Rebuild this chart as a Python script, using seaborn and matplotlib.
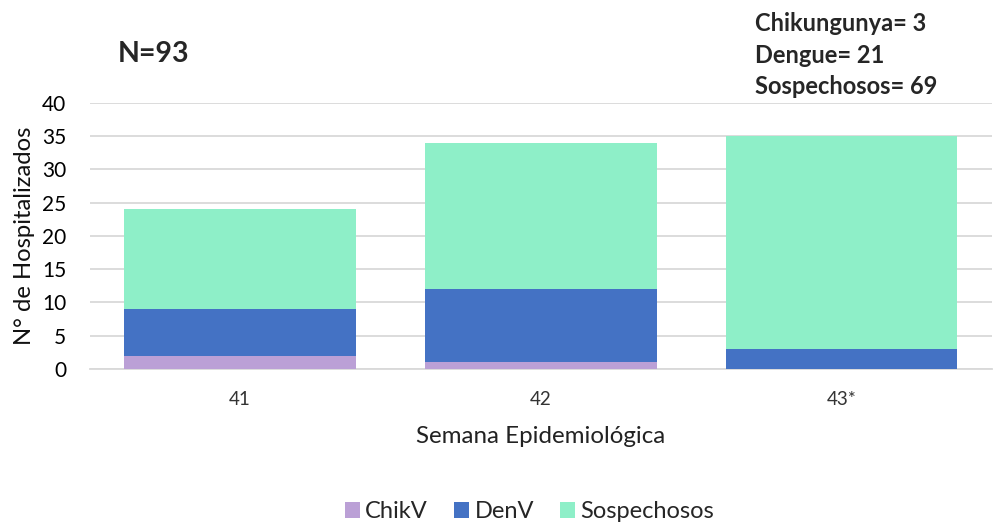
import pandas as pd
import numpy as np
import matplotlib.pyplot as plt
import seaborn as sns
from matplotlib.patches import Patch

# Data
semanas = ["41", "42", "43*"]
chikv = [2, 1, 0]
denv = [7, 11, 3]
sospechosos = [15, 22, 32]

series = ["ChikV", "DenV", "Sospechosos"]
colores = ["#BBA0D6", "#4472C4", "#8EEFC8"]

df = pd.DataFrame({"Semana": semanas, "ChikV": chikv, "DenV": denv,
                   "Sospechosos": sospechosos})

sns.set_theme(style="white")
plt.rcParams['font.family'] = ['Lato', 'DejaVu Sans']

fig = plt.figure(figsize=(9.97, 5.22), dpi=100)
ax = fig.add_axes([0.090, 0.293, 0.905, 0.510])

# Stacked bars
base = np.zeros(len(semanas))
for serie, color in zip(series, colores):
    sns.barplot(data=df, x="Semana", y=serie, color=color, ax=ax,
                width=0.77, bottom=base, saturation=1, linewidth=0, zorder=3)
    base = base + df[serie].values

ax.set_ylim(0, 40)
ax.set_yticks(range(0, 41, 5))
ax.set_xlim(-0.5, 2.5)
ax.grid(axis="y", color="#D9D9D9", linewidth=1.3, zorder=0)
for s in ["top", "right", "left"]:
    ax.spines[s].set_visible(False)
ax.spines["bottom"].set_color("#D9D9D9")
ax.spines["bottom"].set_linewidth(1.3)
ax.tick_params(axis="y", labelsize=15, length=0, pad=17, colors="#000000")
ax.tick_params(axis="x", labelsize=13.5, length=0, pad=16, colors="#333333")

ax.set_xlabel("Semana Epidemiológica", fontsize=17.4, color="#222222", va="baseline")
ax.xaxis.set_label_coords(0.5, -0.278)
ax.set_ylabel("N° de Hospitalizados", fontsize=17.2, color="#111111", va="center")
ax.yaxis.set_label_coords(-0.072, 0.5)

fig.text(0.118, 0.881, "N=93", fontsize=20.5, fontweight="bold", va="baseline")
fig.text(0.757, 0.941, "Chikungunya= 3", fontsize=17, fontweight="bold", va="baseline")
fig.text(0.757, 0.879, "Dengue= 21", fontsize=17, fontweight="bold", va="baseline")
fig.text(0.757, 0.820, "Sospechosos= 69", fontsize=17, fontweight="bold", va="baseline")

handles = [Patch(facecolor=c, edgecolor="none") for c in colores]
fig.legend(handles, series, loc="center", bbox_to_anchor=(0.531, 0.02),
           ncol=3, frameon=False, fontsize=17, handlelength=0.65,
           handleheight=0.65, handletextpad=0.22, columnspacing=1.1)

plt.savefig("out.png", dpi=100)
